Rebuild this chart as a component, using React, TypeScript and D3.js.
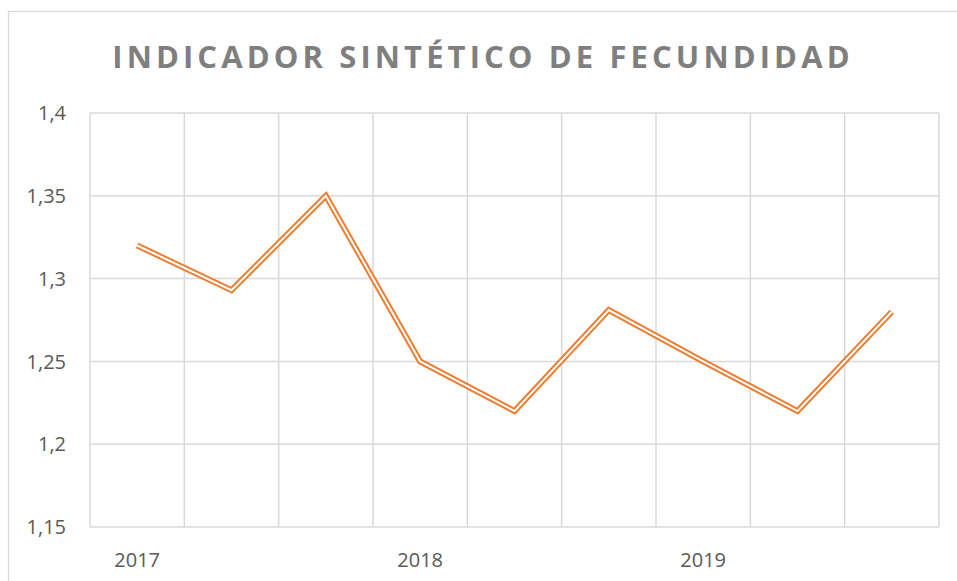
import * as d3 from 'd3';
import { useRef, useEffect } from 'react';

// quarterly-ish points, year label only on the first of each group
const periods = ['p1', 'p2', 'p3', 'p4', 'p5', 'p6', 'p7', 'p8', 'p9'];
const periodLabels = ['2017', '', '', '2018', '', '', '2019', '', ''];
const values = [1.32, 1.293, 1.35, 1.25, 1.22, 1.281, 1.25, 1.22, 1.28];
const yTicks = [1.15, 1.2, 1.25, 1.3, 1.35, 1.4];

const App = () => {
  const svgRef = useRef<SVGSVGElement>(null);

  useEffect(() => {
    const svg = d3.select(svgRef.current);
    const width = 957;
    const height = 581;
    const margin = { top: 113, right: 18, bottom: 54, left: 90 };
    const font = '"Open Sans", "DejaVu Sans", sans-serif';
    const gridColor = '#d9d9d9';
    const textColor = '#595959';
    const lineColor = '#ed7d31';

    svg.selectAll('*').remove();
    svg.attr('width', width).attr('height', height);

    svg.append('rect')
      .attr('x', 0).attr('y', 0)
      .attr('width', width).attr('height', height)
      .attr('fill', '#fff');

    // chart area border
    svg.append('rect')
      .attr('x', 8.5).attr('y', 11.5)
      .attr('width', 1200).attr('height', 1200)
      .attr('fill', 'none')
      .attr('stroke', gridColor)
      .attr('stroke-width', 1.3);

    const x = d3.scaleBand()
      .domain(periods)
      .range([margin.left, width - margin.right]);

    const y = d3.scaleLinear()
      .domain([1.15, 1.4])
      .range([height - margin.bottom, margin.top]);

    const grid = svg.append('g').attr('stroke', gridColor).attr('stroke-width', 1.5);

    grid.selectAll('line.h')
      .data(yTicks)
      .enter().append('line')
      .attr('class', 'h')
      .attr('x1', margin.left).attr('x2', width - margin.right)
      .attr('y1', d => y(d)).attr('y2', d => y(d));

    const edges = periods.map(p => x(p) as number).concat([width - margin.right]);
    grid.selectAll('line.v')
      .data(edges)
      .enter().append('line')
      .attr('class', 'v')
      .attr('x1', d => d).attr('x2', d => d)
      .attr('y1', margin.top).attr('y2', height - margin.bottom);

    // y labels
    svg.append('g')
      .selectAll('text')
      .data(yTicks)
      .enter().append('text')
      .attr('x', 66)
      .attr('y', d => y(d))
      .attr('dy', '0.36em')
      .attr('text-anchor', 'end')
      .style('font-family', font)
      .style('font-size', '20px')
      .style('fill', textColor)
      .text(d => d3.format('.3~f')(d).replace('.', ','));

    // x labels
    svg.append('g')
      .selectAll('text')
      .data(periods)
      .enter().append('text')
      .attr('x', d => (x(d) as number) + x.bandwidth() / 2)
      .attr('y', 567)
      .attr('text-anchor', 'middle')
      .style('font-family', font)
      .style('font-size', '20px')
      .style('fill', textColor)
      .text((d, i) => periodLabels[i]);

    // double line: thick orange with white core
    const line = d3.line<number>()
      .x((d, i) => (x(periods[i]) as number) + x.bandwidth() / 2)
      .y(d => y(d));

    svg.append('path')
      .datum(values)
      .attr('d', line)
      .attr('fill', 'none')
      .attr('stroke', lineColor)
      .attr('stroke-width', 6)
      .attr('stroke-linejoin', 'miter');

    svg.append('path')
      .datum(values)
      .attr('d', line)
      .attr('fill', 'none')
      .attr('stroke', '#fff')
      .attr('stroke-width', 2)
      .attr('stroke-linejoin', 'miter');

    // title
    svg.append('text')
      .attr('x', 483)
      .attr('y', 68)
      .attr('text-anchor', 'middle')
      .style('font-family', font)
      .style('font-size', '31px')
      .style('font-weight', 'bold')
      .style('letter-spacing', '4.1px')
      .style('fill', '#7f7f7f')
      .text('INDICADOR SINTÉTICO DE FECUNDIDAD');
  }, []);

  return (
    <div style={{ position: 'absolute', left: 0, top: 0 }}>
      <svg ref={svgRef}></svg>
    </div>
  );
};

export default App;
